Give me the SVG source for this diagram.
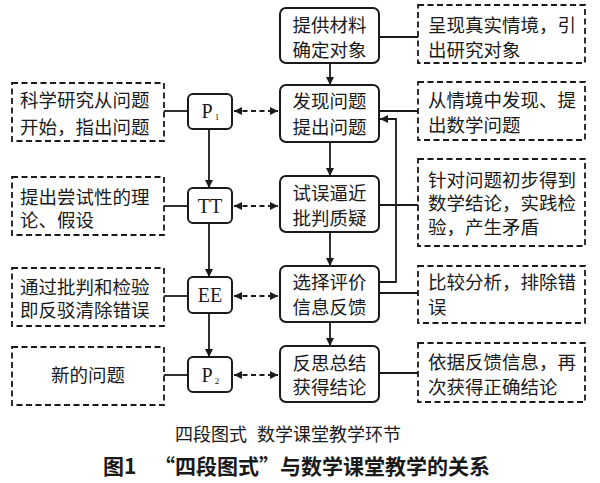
<svg xmlns="http://www.w3.org/2000/svg" width="600" height="483" viewBox="0 0 600 483">
<defs>
<marker id="ah" viewBox="0 0 10 10" refX="10" refY="5" markerWidth="9" markerHeight="8" markerUnits="userSpaceOnUse" orient="auto-start-reverse">
<path d="M0,0 L10,5 L0,10 Z" fill="#1a1a1a"/>
</marker>
</defs>
<style>
.sb{fill:#fff;stroke:#1a1a1a;stroke-width:2}
.db{fill:#fff;stroke:#1a1a1a;stroke-width:1.8;stroke-dasharray:6 3.5}
.ln{fill:none;stroke:#1a1a1a;stroke-width:1.8}
.dl{fill:none;stroke:#1a1a1a;stroke-width:1.8;stroke-dasharray:5 3.5}
.t{font-family:"Liberation Serif","Noto Sans CJK SC",serif;font-size:18.5px;fill:#1a1a1a}
.c{text-anchor:middle}
.p{font-family:"Liberation Serif",serif;font-size:20px;fill:#1a1a1a;text-anchor:middle}
.cap{font-family:"Liberation Serif","Noto Sans CJK SC",serif;font-size:18px;fill:#1a1a1a}
.ttl{font-family:"Noto Sans CJK SC",sans-serif;font-size:21px;font-weight:bold;fill:#1a1a1a}
</style>
<rect width="600" height="483" fill="#fff"/>

<g id="connectors">
<line class="ln" x1="330" y1="63" x2="330" y2="85" marker-end="url(#ah)"/>
<line class="ln" x1="330" y1="142" x2="330" y2="176" marker-end="url(#ah)"/>
<line class="ln" x1="330" y1="232" x2="330" y2="266" marker-end="url(#ah)"/>
<line class="ln" x1="330" y1="322" x2="330" y2="346" marker-end="url(#ah)"/>
<line class="ln" x1="209" y1="129" x2="209" y2="188" marker-end="url(#ah)"/>
<line class="ln" x1="209" y1="223" x2="209" y2="277" marker-end="url(#ah)"/>
<line class="ln" x1="209" y1="313" x2="209" y2="357" marker-end="url(#ah)"/>
<line class="ln" x1="164" y1="111" x2="188" y2="111"/>
<line class="ln" x1="164" y1="206" x2="188" y2="206"/>
<line class="ln" x1="164" y1="296" x2="188" y2="296"/>
<line class="ln" x1="164" y1="375" x2="188" y2="375"/>
<line class="dl" x1="234" y1="111" x2="278" y2="111" marker-start="url(#ah)" marker-end="url(#ah)"/>
<line class="dl" x1="234" y1="206" x2="278" y2="206" marker-start="url(#ah)" marker-end="url(#ah)"/>
<line class="dl" x1="234" y1="296" x2="278" y2="296" marker-start="url(#ah)" marker-end="url(#ah)"/>
<line class="dl" x1="234" y1="375" x2="278" y2="375" marker-start="url(#ah)" marker-end="url(#ah)"/>
<line class="ln" x1="379" y1="37" x2="418" y2="37"/>
<line class="ln" x1="379" y1="111" x2="418" y2="111"/>
<line class="ln" x1="379" y1="205" x2="418" y2="205"/>
<line class="ln" x1="379" y1="293" x2="418" y2="293"/>
<line class="ln" x1="379" y1="373" x2="418" y2="373"/>
<polyline class="ln" points="379,282 396,282 396,119 380,119" marker-end="url(#ah)"/>
</g>

<g id="c1"><rect class="sb" x="280" y="8" width="99" height="55" rx="6"/>
<text class="t c" x="329.5" y="31.5">提供材料</text><text class="t c" x="329.5" y="56.5">确定对象</text></g>
<g id="c2"><rect class="sb" x="280" y="85" width="99" height="57" rx="6"/>
<text class="t c" x="329.5" y="107.5">发现问题</text><text class="t c" x="329.5" y="133.5">提出问题</text></g>
<g id="c3"><rect class="sb" x="280" y="176" width="99" height="56" rx="6"/>
<text class="t c" x="329.5" y="199.5">试误逼近</text><text class="t c" x="329.5" y="224.5">批判质疑</text></g>
<g id="c4"><rect class="sb" x="280" y="266" width="99" height="56" rx="6"/>
<text class="t c" x="329.5" y="288.5">选择评价</text><text class="t c" x="329.5" y="313.5">信息反馈</text></g>
<g id="c5"><rect class="sb" x="280" y="346" width="99" height="56" rx="6"/>
<text class="t c" x="329.5" y="369.5">反思总结</text><text class="t c" x="329.5" y="393.5">获得结论</text></g>

<g id="p1"><rect class="sb" x="188" y="94" width="44" height="35" rx="5"/>
<text class="p" x="207" y="118">P</text><text class="p" x="217" y="120" style="font-size:9px">1</text></g>
<g id="tt"><rect class="sb" x="188" y="188" width="44" height="35" rx="5"/>
<text class="p" x="210" y="213">TT</text></g>
<g id="ee"><rect class="sb" x="188" y="277" width="44" height="36" rx="5"/>
<text class="p" x="210" y="302">EE</text></g>
<g id="p2"><rect class="sb" x="188" y="357" width="44" height="35" rx="5"/>
<text class="p" x="207" y="382">P</text><text class="p" x="217" y="384" style="font-size:9px">2</text></g>

<g id="l1"><rect class="db" x="12" y="83" width="152" height="58"/>
<text class="t" x="20" y="106.5">科学研究从问题</text><text class="t" x="20" y="133.5">开始，指出问题</text></g>
<g id="l2"><rect class="db" x="12" y="177" width="152" height="58"/>
<text class="t" x="20" y="203.5">提出尝试性的理</text><text class="t" x="20" y="227">论、假设</text></g>
<g id="l3"><rect class="db" x="12" y="268" width="152" height="58"/>
<text class="t" x="20" y="293.5">通过批判和检验</text><text class="t" x="20" y="316.5">即反驳清除错误</text></g>
<g id="l4"><rect class="db" x="12" y="347" width="152" height="58"/>
<text class="t c" x="88" y="381.5">新的问题</text></g>

<g id="r1"><rect class="db" x="418" y="5" width="167" height="58"/>
<text class="t" x="428" y="31.5">呈现真实情境，引</text><text class="t" x="428" y="56.5">出研究对象</text></g>
<g id="r2"><rect class="db" x="418" y="82" width="167" height="58"/>
<text class="t" x="428" y="106.5">从情境中发现、提</text><text class="t" x="428" y="131.5">出数学问题</text></g>
<g id="r3"><rect class="db" x="418" y="159" width="167" height="87"/>
<text class="t" x="428" y="186.5">针对问题初步得到</text><text class="t" x="428" y="209.5">数学结论，实践检</text><text class="t" x="428" y="233.5">验，产生矛盾</text></g>
<g id="r4"><rect class="db" x="418" y="266" width="167" height="57"/>
<text class="t" x="428" y="288.5">比较分析，排除错</text><text class="t" x="428" y="313.5">误</text></g>
<g id="r5"><rect class="db" x="418" y="343" width="167" height="59"/>
<text class="t" x="428" y="368.5">依据反馈信息，再</text><text class="t" x="428" y="393.5">次获得正确结论</text></g>

<g id="caption">
<text class="cap" x="175" y="441">四段图式</text>
<text class="cap" x="257" y="441">数学课堂教学环节</text>
<text class="ttl" x="103" y="474">图1</text>
<text class="ttl" x="154" y="474">“四段图式”与数学课堂教学的关系</text>
</g>
</svg>
